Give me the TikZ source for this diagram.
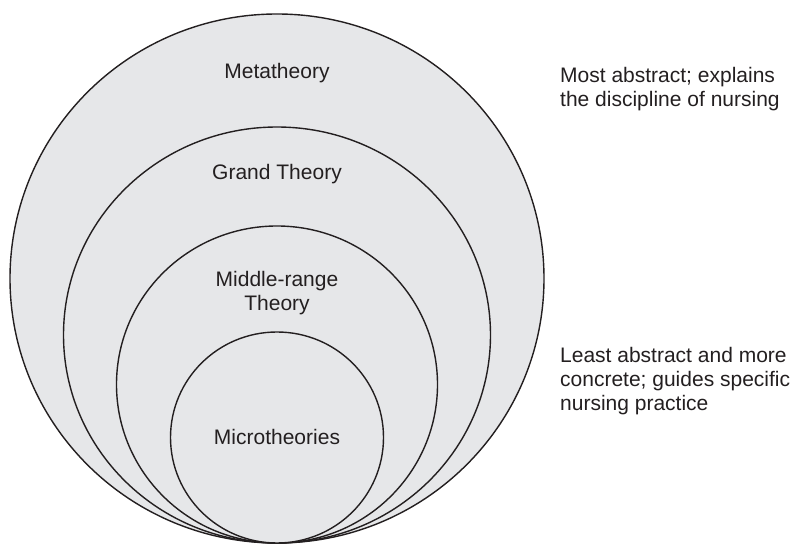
\documentclass[tikz,border=0pt]{standalone}
\usepackage{fontspec}
\setmainfont{Liberation Sans}
\usepackage{xcolor}
\usepackage{tikz}
\usetikzlibrary{positioning}

\definecolor{ringfill}{HTML}{E6E7E9}
\definecolor{inkdark}{HTML}{231F20}

\begin{document}
\begin{tikzpicture}[x=1pt, y=1pt, ring/.style={fill=ringfill, draw=inkdark, line width=1.4pt},
    lbl/.style={text=inkdark, font=\fontsize{21}{24}\selectfont, align=center, inner sep=0pt},
    note/.style={lbl, align=left, anchor=west}]
    \useasboundingbox (0,0) rectangle (796,544);

    % nested theory levels, all touching at the bottom
    \draw[ring] (277,265.5) ellipse [x radius=267, y radius=264.5];
    \draw[ring] (277,209) ellipse [x radius=213.5, y radius=208];
    \draw[ring] (277,159.5) ellipse [x radius=160.5, y radius=158.5];
    \draw[ring] (277,106.5) ellipse [x radius=106.5, y radius=105.5];

    \node[lbl] (meta) at (277,471) {Metatheory};
    \node[lbl] (grand) at (277,370) {Grand Theory};
    \node[lbl] (middle) at (277,251) {Middle-range\\Theory};
    \node[lbl] (micro) at (277,107) {Microtheories};

    \node[note] (top) at (560,455) {Most abstract; explains\\the discipline of nursing};
    \node[note] (bottom) at (560,163) {Least abstract and more\\concrete; guides specific\\nursing practice};
\end{tikzpicture}
\end{document}
